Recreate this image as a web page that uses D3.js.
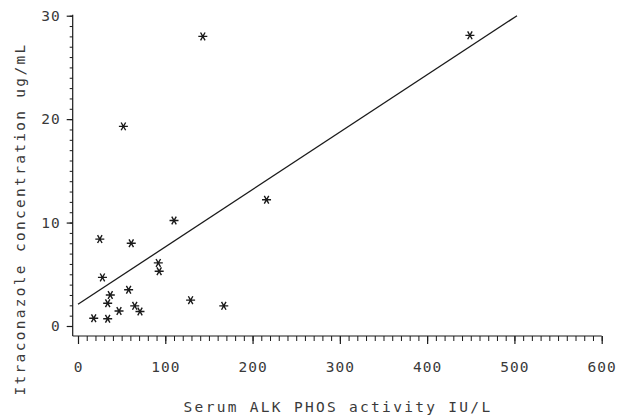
<!DOCTYPE html>
<html>
<head>
<meta charset="utf-8">
<script src="https://cdn.jsdelivr.net/npm/d3@7"></script>
<style>
  body { margin: 0; background: #fff; }
  svg text { font-family: "DejaVu Sans Mono", monospace; fill: #3a3a3a; }
</style>
</head>
<body>
<div id="chart"></div>
<script>
// values
var alkPhos = [18, 34, 25, 28, 34, 37, 47, 58, 61, 65, 71, 92, 93, 110, 129, 167, 216, 52, 143, 449];
var itraconazole = [0.75, 0.7, 8.4, 4.7, 2.2, 3.0, 1.45, 3.5, 8.0, 1.95, 1.4, 6.1, 5.3, 10.2, 2.5, 1.95, 12.2, 19.3, 28.0, 28.1];
var fitLine = [[0, 2.1], [503, 30]];
var xTicks = [0, 100, 200, 300, 400, 500, 600];
var yTicks = [0, 10, 20, 30];
var xTitle = "Serum ALK PHOS activity IU/L";
var yTitle = "Itraconazole concentration ug/mL";

function init(){
	var w = 629, h = 418;
	var ink = "#1a1a1a";

	var svg = d3.select("#chart").append("svg")
		.attr("width", w)
		.attr("height", h);

	var xScale = d3.scaleLinear().domain([0, 600]).range([78, 601.7]);
	var yScale = d3.scaleLinear().domain([0, 30]).range([326, 15.7]);

	var axisY = 336, axisX = 72.7;

	// ---------------- x axis ----------------
	var gx = svg.append("g").attr("transform", "translate(0," + axisY + ")");
	gx.append("line")
		.attr("x1", axisX).attr("x2", xScale(600))
		.attr("y1", 0).attr("y2", 0)
		.attr("stroke", ink).attr("stroke-width", 1.2);
	gx.append("g")
		.call(d3.axisBottom(xScale).tickValues(d3.range(0, 601, 10)).tickSize(5).tickFormat(""))
		.call(function(g){ g.select(".domain").remove(); g.selectAll("line").attr("stroke", ink); });
	gx.append("g")
		.call(d3.axisBottom(xScale).tickValues(xTicks).tickSize(8).tickPadding(18))
		.call(function(g){
			g.select(".domain").remove();
			g.selectAll("line").attr("stroke", ink).attr("stroke-width", 1.2);
			g.selectAll("text")
				.attr("font-family", "DejaVu Sans Mono, monospace")
				.attr("font-size", "14.5px")
				.attr("letter-spacing", "1px")
				.attr("fill", "#3a3a3a");
		});

	// ---------------- y axis ----------------
	var gy = svg.append("g").attr("transform", "translate(" + axisX + ",0)");
	gy.append("line")
		.attr("x1", 0).attr("x2", 0)
		.attr("y1", yScale(30) - 1).attr("y2", axisY)
		.attr("stroke", ink).attr("stroke-width", 1.2);
	gy.append("g")
		.call(d3.axisLeft(yScale).tickValues(d3.range(0, 31, 1)).tickSize(3).tickFormat(""))
		.call(function(g){ g.select(".domain").remove(); g.selectAll("line").attr("stroke", ink); });
	gy.append("g")
		.call(d3.axisLeft(yScale).tickValues(yTicks).tickSize(6).tickPadding(6))
		.call(function(g){
			g.select(".domain").remove();
			g.selectAll("line").attr("stroke", ink).attr("stroke-width", 1.2);
			g.selectAll("text")
				.attr("font-family", "DejaVu Sans Mono, monospace")
				.attr("font-size", "14.5px")
				.attr("letter-spacing", "1px")
				.attr("fill", "#3a3a3a");
		});

	// ---------------- titles ----------------
	svg.append("text")
		.attr("x", 338).attr("y", 412)
		.attr("text-anchor", "middle")
		.attr("font-size", "14.5px")
		.attr("letter-spacing", "2.3px")
		.text(xTitle);

	svg.append("text")
		.attr("transform", "translate(25,219) rotate(-90)")
		.attr("text-anchor", "middle")
		.attr("font-size", "14.5px")
		.attr("letter-spacing", "2.3px")
		.text(yTitle);

	// ---------------- regression line ----------------
	svg.append("path")
		.datum(fitLine)
		.attr("fill", "none")
		.attr("stroke", ink)
		.attr("stroke-width", 1.3)
		.attr("d", d3.line()
			.x(function(d){ return xScale(d[0]); })
			.y(function(d){ return yScale(d[1]); }));

	// ---------------- asterisks ----------------
	var r = 4.5;
	function star(){
		var p = d3.path();
		p.moveTo(-r, 0); p.lineTo(r, 0);
		var dx = r * Math.cos(Math.PI / 3), dy = r * Math.sin(Math.PI / 3);
		p.moveTo(-dx, -dy); p.lineTo(dx, dy);
		p.moveTo(-dx, dy); p.lineTo(dx, -dy);
		return p.toString();
	}

	svg.selectAll("path.pt")
		.data(d3.range(alkPhos.length))
		.enter()
		.append("path")
		.attr("class", "pt")
		.attr("transform", function(i){
			return "translate(" + xScale(alkPhos[i]) + "," + yScale(itraconazole[i]) + ")";
		})
		.attr("d", star())
		.attr("stroke", ink)
		.attr("stroke-width", 1.4)
		.attr("fill", "none");
}
window.onload = init;
</script>
</body>
</html>
